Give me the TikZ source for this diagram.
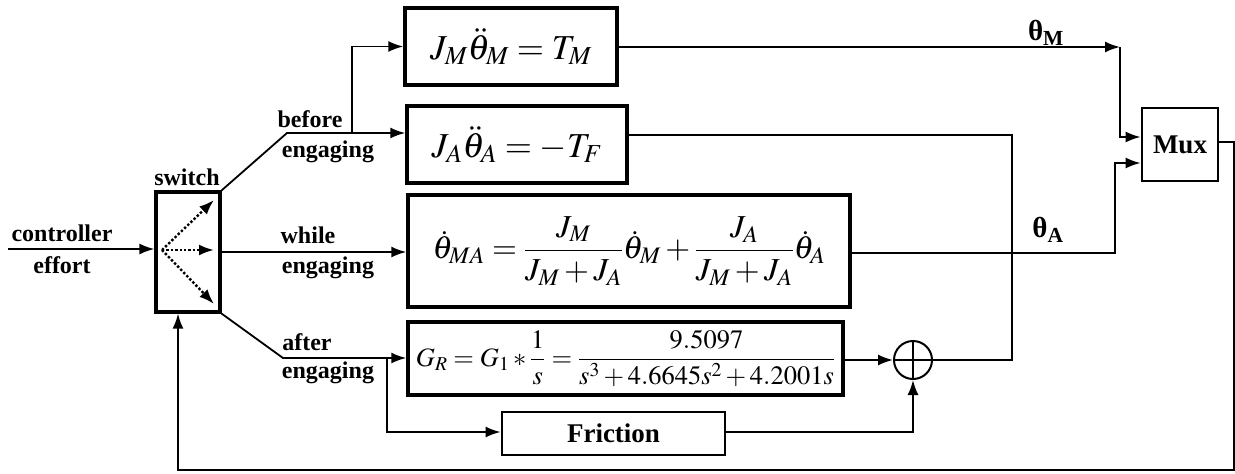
\documentclass[tikz,border=0pt]{standalone}
\usepackage{amsmath}
\usepackage{mathptmx}
\usepackage{fontspec}
\setmainfont{Liberation Serif}
\usetikzlibrary{arrows.meta,calc}
\begin{document}
\begin{tikzpicture}[x=1pt,y=-1pt,
  wire/.style={line width=1.8pt},
  arr/.style={wire,-{Latex[length=15pt,width=11pt]}},
  blk/.style={draw,line width=3.4pt,inner sep=0pt,anchor=center},
  lbl/.style={font=\fontsize{24}{26}\selectfont\bfseries,inner sep=0pt},
  thl/.style={font=\fontsize{29}{31}\selectfont\bfseries,inner sep=0pt},
  eqA/.style={font=\fontsize{35}{38}\selectfont},
  eqB/.style={font=\fontsize{32}{35}\selectfont},
  eqC/.style={font=\fontsize{26.5}{29}\selectfont}]
\useasboundingbox (0,0) rectangle (1235,474);
% blocks
\node[blk,minimum width=212pt,minimum height=77pt,eqA] (JM) at (511,46.5) {$J_M\ddot{\theta}_M = T_M$};
\node[blk,minimum width=220pt,minimum height=77pt,eqA] (JA) at (517,144.5) {$J_A\ddot{\theta}_A = -T_F$};
\node[blk,minimum width=442pt,minimum height=112pt,eqB] (MA) at (629,251) {$\dot{\theta}_{MA} = \dfrac{J_M}{J_M+J_A}\dot{\theta}_M + \dfrac{J_A}{J_M+J_A}\dot{\theta}_A$};
\node[blk,minimum width=435pt,minimum height=73pt,eqC] (G) at (625.5,358.5) {$G_R = G_1 * \dfrac{1}{s} = \dfrac{9.5097}{s^3+4.6645s^2+4.2001s}$};
\node[blk,line width=2.8pt,minimum width=223pt,minimum height=43pt,font=\fontsize{27}{29}\selectfont\bfseries] (Fr) at (613.5,433.5) {Friction};
\node[blk,line width=2.8pt,minimum width=76pt,minimum height=73pt,font=\fontsize{27}{29}\selectfont\bfseries] (Mux) at (1180,144.5) {Mux};
\node[blk,line width=3.2pt,minimum width=64pt,minimum height=120pt] (sw) at (188,252) {};
\node[draw,circle,line width=2pt,minimum size=38pt,inner sep=0pt] (sum) at (913,360) {};
\draw[line width=2pt] (sum.north) -- (sum.south) (sum.west) -- (sum.east);
% labels
\node[lbl] (tsw) at (187,177) {switch};
\node[lbl] (tc) at (62,233) {controller};
\node[lbl] (te) at (62,265) {effort};
\node[lbl] (tb1) at (310,119) {before};
\node[lbl] (tb2) at (328,152) {engaging};
\node[lbl] (tw1) at (308,235) {while};
\node[lbl] (tw2) at (328,268) {engaging};
\node[lbl] (ta1) at (307,342) {after};
\node[lbl] (ta2) at (328,373) {engaging};
\node[thl] (thM) at (1046,33) {θ\textsubscript{M}};
\node[thl] (thA) at (1048,230) {θ\textsubscript{A}};
% switch internals
\coordinate (sc) at (162,250);
\draw[line width=2.4pt,dotted,-{Latex[length=15pt,width=11pt]}] (sc) -- (214,200);
\draw[line width=2.4pt,dotted,-{Latex[length=15pt,width=11pt]}] (sc) -- (214,250);
\draw[line width=2.4pt,dotted,-{Latex[length=15pt,width=11pt]}] (sc) -- (214,304);
% input
\coordinate (in) at (8,249);
\draw[arr] (in) -- (in -| sw.west);
% before engaging
\coordinate (b1) at (287,133);
\coordinate (b2) at (352,133);
\draw[arr] (sw.north east) -- (b1) -- (b1 -| JA.west);
\draw[arr] (b2) -- (b2 |- JM.west) -- (JM.west);
% while engaging
\coordinate (w1) at (220,252);
\draw[arr] (w1) -- (w1 -| MA.west);
% after engaging
\coordinate (a1) at (283,358);
\coordinate (a2) at (387,358);
\coordinate (a3) at (387,432);
\draw[arr] (sw.south east) -- (a1) -- (a1 -| G.west);
\draw[arr] (a2) -- (a3) -- (a3 -| Fr.west);
% G to sum, friction to sum
\draw[arr] (G.east |- sum.west) -- (sum.west);
\coordinate (f1) at (913,432);
\draw[arr] (Fr.east |- f1) -- (f1) -- (sum.south);
% JA output to sum
\coordinate (j1) at (627,135);
\coordinate (j2) at (1012,135);
\draw[wire] (j1) -- (j2) -- (j2 |- sum.east) -- (sum.east);
% JM output to mux
\coordinate (m1) at (617,47);
\coordinate (m2) at (1120,47);
\coordinate (m3) at (1120,137);
\draw[arr] (m1) -- (m2);
\draw[arr] (m2) -- (m3) -- (m3 -| Mux.west);
% MA output to mux
\coordinate (t1) at (850,253);
\coordinate (t2) at (1115,253);
\coordinate (t3) at (1115,163);
\draw[arr] (t1) -- (t2) -- (t3) -- (t3 -| Mux.west);
% feedback
\coordinate (o1) at (1234,142);
\coordinate (o2) at (1234,470);
\coordinate (o3) at (178,470);
\draw[arr] (Mux.east |- o1) -- (o1) -- (o2) -- (o3) -- (o3 |- sw.south);
\end{tikzpicture}
\end{document}
